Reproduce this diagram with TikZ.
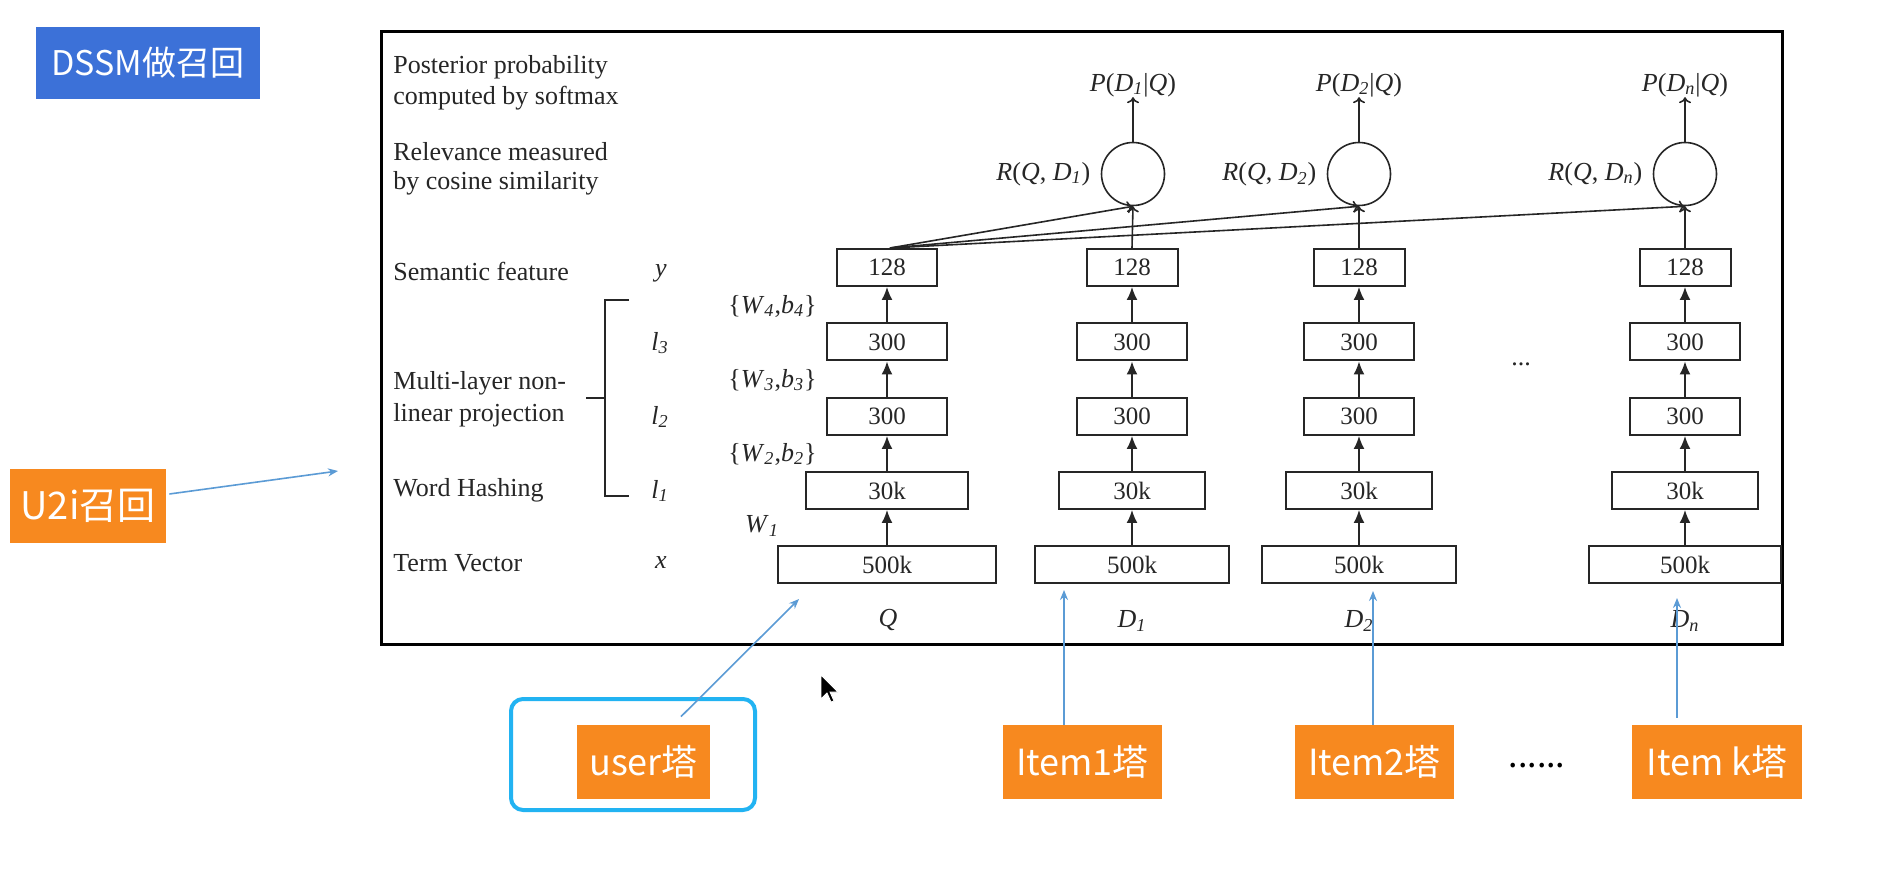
\documentclass[tikz,border=0pt]{standalone}
\usepackage{fontspec}
\setmainfont{Liberation Serif}
\newfontfamily\cjk{Noto Sans CJK SC}
\usetikzlibrary{arrows.meta}
\definecolor{orangeC}{HTML}{F7891F}
\definecolor{blueD}{HTML}{3C71D8}
\definecolor{cyanF}{HTML}{22B3F2}
\definecolor{blueA}{HTML}{5B9BD5}
\definecolor{inkC}{HTML}{262626}
\newcommand{\sub}[1]{\textsubscript{\textit{#1}}}
\newcommand{\towercol}[6]{%
  \node[layerbox, minimum width=#3pt] (#1a) at (#2,267.5) {128};
  \node[layerbox, minimum width=#4pt] (#1b) at (#2,342) {300};
  \node[layerbox, minimum width=#4pt] (#1c) at (#2,416.5) {300};
  \node[layerbox, minimum width=#5pt] (#1d) at (#2,490.5) {30k};
  \node[layerbox, minimum width=#6pt] (#1e) at (#2,564.5) {500k};
  \draw[fwd] (#1e) -- (#1d);
  \draw[fwd] (#1d) -- (#1c);
  \draw[fwd] (#1c) -- (#1b);
  \draw[fwd] (#1b) -- (#1a);
}
\tikzset{
  layerbox/.style={draw=inkC, line width=1pt, minimum height=18.5pt, inner sep=0pt,
    text=inkC, font=\fontsize{12.5}{14}\selectfont},
  lbl/.style={anchor=west, inner sep=0pt, text=inkC, font=\fontsize{13}{15}\selectfont},
  mlbl/.style={inner sep=0pt, text=inkC, font=\fontsize{13}{15}\selectfont},
  fwd/.style={-{Latex[length=6.5pt,width=5.5pt]}, line width=0.8pt, draw=inkC},
  sim/.style={-{To[length=3pt,width=6pt]}, line width=0.8pt, draw=inkC},
  simcirc/.style={circle, draw=inkC, line width=0.8pt, minimum size=31.5pt, inner sep=0pt},
  obox/.style={fill=orangeC, text=white, inner sep=0pt, minimum height=37pt,
    font=\cjk\fontsize{18}{21}\selectfont},
  bluearrow/.style={-{Stealth[length=5pt,width=4pt]}, draw=blueA, line width=0.8pt},
}
\begin{document}
\begin{tikzpicture}[x=0.5pt,y=-0.5pt]
\useasboundingbox[fill=white] (0,0) rectangle (1890,876);

% title
\node[fill=blueD, text=white, minimum width=112pt, minimum height=36pt, inner sep=0pt,
  font=\cjk\fontsize{17}{20}\selectfont] (title) at (148,63) {DSSM做召回};

% frame
\draw[line width=1.5pt, draw=black] (381.5,31.7) rectangle (1782,645);

% left descriptions
\node[lbl] (t1) at (393,67) {Posterior probability};
\node[lbl] (t2) at (393,98) {computed by softmax};
\node[lbl] (t3) at (393,152) {Relevance measured};
\node[lbl] (t4) at (393,183) {by cosine similarity};
\node[lbl] (t5) at (393,271) {Semantic feature};
\node[lbl] (t6) at (393,383) {Multi-layer non-};
\node[lbl] (t7) at (393,415) {linear projection};
\node[lbl] (t8) at (393,490) {Word Hashing};
\node[lbl] (t9) at (393,563) {Term Vector};

% bracket
\draw[line width=0.8pt, draw=inkC] (629,300) -- (605,300) -- (605,496) -- (629,496);
\draw[line width=0.8pt, draw=inkC] (586,398) -- (605,398);

% layer symbols
\node[mlbl] (sy) at (661,273) {\textit{y}};
\node[mlbl] (sl3) at (660,343) {\textit{l}\sub{3}};
\node[mlbl] (sl2) at (660,417) {\textit{l}\sub{2}};
\node[mlbl] (sl1) at (660,491) {\textit{l}\sub{1}};
\node[mlbl] (sx) at (661,563) {\textit{x}};

% weights
\node[mlbl, anchor=east] (w4) at (817,306) {\{\textit{W}\sub{4},\textit{b}\sub{4}\}};
\node[mlbl, anchor=east] (w3) at (817,380) {\{\textit{W}\sub{3},\textit{b}\sub{3}\}};
\node[mlbl, anchor=east] (w2) at (817,454) {\{\textit{W}\sub{2},\textit{b}\sub{2}\}};
\node[mlbl] (w1) at (762,526) {\textit{W}\sub{1}};

% towers
\towercol{Q}{887}{50}{60}{81}{109}
\towercol{A}{1132}{45.5}{55}{73}{97}
\towercol{B}{1359}{45.5}{55}{73}{97}
\towercol{N}{1685}{45.5}{55}{73}{96}

% bottom labels
\node[mlbl] (lq) at (888,620) {\textit{Q}};
\node[mlbl] (la) at (1132,621) {\textit{D}\sub{1}};
\node[mlbl] (lb) at (1359,621) {\textit{D}\sub{2}};
\node[mlbl] (ln) at (1685,621) {\textit{D}\sub{n}};
\node[mlbl] (dots) at (1521,364) {...};

% similarity circles
\node[simcirc] (c1) at (1133,174) {};
\node[simcirc] (c2) at (1359,174) {};
\node[simcirc] (cn) at (1685,174) {};
\node[mlbl, anchor=east] (r1) at ([xshift=-5pt]c1.west) {\textit{R}(\textit{Q}, \textit{D}\sub{1})};
\node[mlbl, anchor=east] (r2) at ([xshift=-5pt]c2.west) {\textit{R}(\textit{Q}, \textit{D}\sub{2})};
\node[mlbl, anchor=east] (rn) at ([xshift=-5pt]cn.west) {\textit{R}(\textit{Q}, \textit{D}\sub{n})};
\node[mlbl] (p1) at (1133,85) {\textit{P}(\textit{D}\sub{1}|\textit{Q})};
\node[mlbl] (p2) at (1359,85) {\textit{P}(\textit{D}\sub{2}|\textit{Q})};
\node[mlbl] (pn) at (1685,85) {\textit{P}(\textit{D}\sub{n}|\textit{Q})};
\draw[sim] (c1.north) -- (p1.south);
\draw[sim] (c2.north) -- (p2.south);
\draw[sim] (cn.north) -- (pn.south);
\draw[sim] (Aa.north) -- (c1.south);
\draw[sim] (Ba.north) -- (c2.south);
\draw[sim] (Na.north) -- (cn.south);
\draw[sim] ([xshift=1.5pt]Qa.north) -- (c1.south);
\draw[sim] ([xshift=1.5pt]Qa.north) -- (c2.south);
\draw[sim] ([xshift=1.5pt]Qa.north) -- (cn.south);

% orange labels
\node[obox, minimum width=78pt, font=\cjk\fontsize{19}{22}\selectfont] (u2i) at (88,506) {U2i召回};
\node[obox, minimum width=66.5pt] (user) at (643.5,762) {user塔};
\node[draw=cyanF, line width=2pt, rounded corners=6pt, minimum width=122pt, minimum height=55.5pt, inner sep=0pt] (userframe) at (633,754.5) {};
\node[obox, minimum width=79.5pt] (it1) at (1082.5,762) {Item1塔};
\node[obox, minimum width=79.5pt] (it2) at (1374.5,762) {Item2塔};
\node[obox, minimum width=85pt] (itk) at (1717,762) {Item k塔};
\node[inner sep=0pt, font=\cjk\fontsize{17}{20}\selectfont] (more) at (1537,766) {......};

% blue pointer arrows
\coordinate (u2iend) at (338,471);
\coordinate (userend) at (799,599);
\coordinate (it1end) at (1064,590);
\coordinate (it2end) at (1373,591);
\coordinate (itkend) at (1677,598);
\draw[bluearrow] ([xshift=1.5pt,yshift=6pt]u2i.east) -- (u2iend);
\draw[bluearrow] ([xshift=18.75pt,yshift=4pt]user.north) -- (userend);
\draw[bluearrow] ([xshift=-9.25pt]it1.north) -- (it1end);
\draw[bluearrow] ([xshift=-0.75pt]it2.north) -- (it2end);
\draw[bluearrow] ([xshift=-20pt,yshift=3.5pt]itk.north) -- (itkend);

% mouse cursor
\filldraw[fill=black, draw=white, line width=0.4pt]
  (821,675) -- (821,699) -- (827,693) -- (831,702) -- (834,701) -- (830,692) -- (838,692) -- cycle;
\end{tikzpicture}
\end{document}
